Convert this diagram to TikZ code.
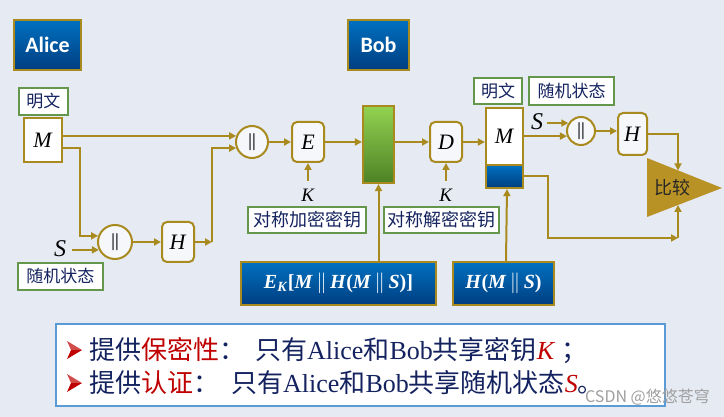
\documentclass[tikz,border=0pt]{standalone}
\usepackage{fontspec}
\setmainfont{Liberation Serif}
\newfontfamily\cjk{Noto Sans CJK SC}
\newfontfamily\carl{Carlito}
\usetikzlibrary{arrows.meta,calc}

\definecolor{gold}{RGB}{168,138,30}
\definecolor{bgc}{RGB}{230,234,243}
\definecolor{navy}{RGB}{20,35,95}
\definecolor{lblgreen}{RGB}{100,150,75}
\definecolor{boxfill}{RGB}{246,247,250}
\definecolor{blueT}{RGB}{0,112,192}
\definecolor{blueB}{RGB}{0,62,128}
\definecolor{greenT}{RGB}{146,210,80}
\definecolor{greenB}{RGB}{78,130,38}
\definecolor{redT}{RGB}{192,0,0}
\definecolor{bordblue}{RGB}{91,155,213}
\definecolor{tri}{RGB}{185,146,38}

\newcommand{\iv}[1]{\textit{#1}}
\newcommand{\cc}{\ensuremath{\,\|\,}}

\tikzset{
  wire/.style={draw=gold, line width=2pt},
  arr/.style={wire, -{Triangle[length=7pt,width=7pt]}},
  bluebox/.style={draw=gold, line width=2.2pt, top color=blueT, bottom color=blueB, inner sep=0pt, text=white},
  lbl/.style={draw=lblgreen, line width=1.3pt, fill=white, text=navy, inner sep=0pt, font=\cjk\fontsize{17}{20}\selectfont},
  wlbl/.style={lbl, font=\cjk\fontsize{18}{20}\selectfont},
  opbox/.style={draw=gold, line width=2pt, fill=boxfill, rounded corners=5pt, minimum width=32pt, minimum height=40pt, inner sep=0pt, font=\fontsize{22}{24}\selectfont},
  sqbox/.style={draw=gold, line width=2.2pt, inner sep=0pt, font=\fontsize{22}{24}\selectfont},
  catc/.style={circle, draw=gold, line width=2pt, fill=boxfill, inner sep=0pt, font=\boldmath\fontsize{18}{20}\selectfont},
  varl/.style={inner sep=0pt, font=\fontsize{24}{26}\selectfont},
  kvar/.style={inner sep=0pt, font=\fontsize{19}{20}\selectfont},
  nametag/.style={bluebox, minimum height=50pt, font=\carl\bfseries\fontsize{22}{26}\selectfont},
  noteline/.style={anchor=west, inner sep=0pt, text=navy, font=\fontsize{26}{30}\selectfont},
  formula/.style={bluebox, minimum height=43pt, font=\bfseries\fontsize{20}{22}\selectfont},
}

\begin{document}
\begin{tikzpicture}[x=1pt,y=-1pt]
\fill[bgc] (0,0) rectangle (724,417);
\useasboundingbox (0,0) rectangle (724,417);

% name tags
\node[nametag, minimum width=67pt] (alice) at (47.5,45) {Alice};
\node[nametag, minimum width=61pt] (bob) at (378.5,45) {Bob};

% Alice side
\node[lbl, minimum width=49pt, minimum height=27pt] (pt1) at (43.5,101.5) {明文};
\node[sqbox, fill=white, minimum width=38pt, minimum height=44pt] (m1) at (43,140) {\iv{M}};
\node[catc, minimum size=34pt] (c1) at (115,242) {$\|$};
\node[varl] (s1) at (60,249) {\iv{S}};
\node[lbl, minimum width=85pt, minimum height=27pt] (rs1) at (60.5,276.5) {随机状态};
\node[opbox] (h1) at (178,242) {\iv{H}};
\coordinate (j1) at (212,242);

\node[catc, minimum size=32pt] (c2) at (252,142) {$\|$};
\node[opbox] (e) at (308,142) {\iv{E}};
\node[kvar] (k1) at (308,195) {\iv{K}};
\node[wlbl, minimum width=118pt, minimum height=26pt] (sk1) at (307,220) {对称加密密钥};

% ciphertext
\node[draw=gold, line width=2.2pt, top color=greenT, bottom color=greenB, minimum width=31pt, minimum height=77pt, inner sep=0pt] (ct) at (378.5,144.5) {};
\node[formula, minimum width=195pt] (ek) at (338.5,283.5) {\iv{E}\textsubscript{\iv{K}}[\iv{M}\cc\iv{H}(\iv{M}\cc\iv{S})]};

% Bob side
\node[opbox] (d) at (446,142) {\iv{D}};
\node[kvar] (k2) at (446,195) {\iv{K}};
\node[wlbl, minimum width=115pt, minimum height=26pt] (sk2) at (441.5,220) {对称解密密钥};

\node[sqbox, fill=white, minimum width=37pt, minimum height=57pt] (m2) at (504.5,136.5) {\iv{M}};
\node[sqbox, top color=blueT, bottom color=blueB, minimum width=37pt, minimum height=23pt] (m2b) at (504.5,176.5) {};
\node[formula, minimum width=101pt] (hms) at (503.5,283.5) {\iv{H}(\iv{M}\cc\iv{S})};
\node[lbl, minimum width=48pt, minimum height=26pt] (pt2) at (498,91) {明文};
\node[lbl, minimum width=85pt, minimum height=28pt] (rs2) at (571.5,91) {随机状态};
\node[varl] (s2) at (537,122) {\iv{S}};
\node[catc, minimum size=28pt] (c3) at (581,131) {$\|$};
\node[opbox, minimum width=29pt, minimum height=42pt] (h2) at (632.5,134) {\iv{H}};

% comparator
\fill[tri] (647,158) -- (722,188) -- (647,217) -- cycle;
\node[inner sep=0pt, text=black!85, font=\cjk\fontsize{18}{20}\selectfont] (cmp) at (672,188) {比较};
\coordinate (cmpT) at (678,170.4);
\coordinate (cmpB) at (678,205);
\coordinate (j2) at (678,238);

% connectors
\draw[arr] (m1.east |- c2.159) -- (c2.159);
\draw[arr] ($(m1.east)+(0,8)$) -| ([xshift=-18pt]c1.160) -- (c1.160);
\draw[arr] ([xshift=6pt]s1.east |- c1.206) -- (c1.206);
\draw[arr] (c1.east) -- (h1.west);
\draw[arr] (h1.east) -- (j1);
\draw[arr] (j1) -- (j1 |- c2.201) -- (c2.201);
\draw[arr] (c2.east) -- (e.west);
\draw[arr] ([yshift=8pt]k1.north) -- (e.south);
\draw[arr] (e.east) -- (e.east -| ct.west);
\draw[arr] (ek.north -| ct.south) -- (ct.south);
\draw[arr] (ct.east |- d.west) -- (d.west);
\draw[arr] ([yshift=8pt]k2.north) -- (d.south);
\draw[arr] (d.east) -- (d.east -| m2.west);
\draw[arr] ([xshift=2.5pt]hms.north) -- ([xshift=2.5pt]m2b.south);
\draw[arr] ([xshift=4pt]s2.east |- c3.148) -- (c3.148);
\draw[arr] (m2.east |- c3.200) -- (c3.200);
\draw[arr] (c3.east) -- (c3.east -| h2.west);
\draw[arr] (h2.east) -| (cmpT);
\draw[arr] (m2b.east) -| ([xshift=-130pt]j2) -- (j2);
\draw[arr] (j2) -- (cmpB);

% note box
\node[draw=bordblue, line width=2pt, fill=white, minimum width=609pt, minimum height=81pt, inner sep=0pt] (note) at (360.5,365) {};
\fill[redT!70] (67,341) -- (82,350) -- (71,350) -- cycle;
\fill[redT] (67,359) -- (82,350) -- (71,350) -- cycle;
\fill[redT!70] (67,374) -- (82,383) -- (71,383) -- cycle;
\fill[redT] (67,392) -- (82,383) -- (71,383) -- cycle;
\node[noteline] (l1) at (89,351) {{\cjk 提供}{\color{redT}\cjk 保密性}{\cjk ：}\hspace{10pt}{\cjk 只有}Alice{\cjk 和}Bob{\cjk 共享密钥}{\color{redT}\iv{K}}\hspace{6pt}{\cjk ；}};
\node[noteline] (l2) at (89,383) {{\cjk 提供}{\color{redT}\cjk 认证}{\cjk ：}\hspace{12pt}{\cjk 只有}Alice{\cjk 和}Bob{\cjk 共享随机状态}{\color{redT}\iv{S}}{\cjk 。}};

\node[anchor=east, inner sep=0pt, text=gray!75, font=\cjk\fontsize{16}{18}\selectfont] (wm) at (710,397) {CSDN @悠悠苍穹};
\end{tikzpicture}
\end{document}
